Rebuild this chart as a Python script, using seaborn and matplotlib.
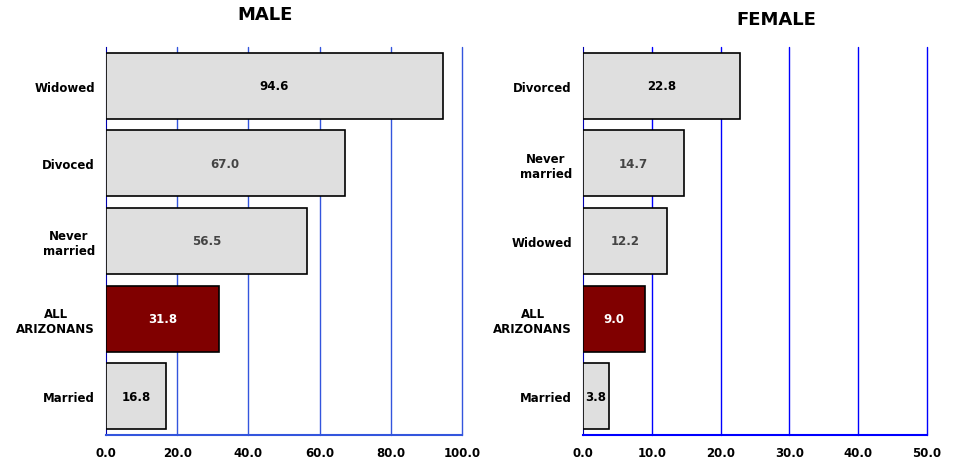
import matplotlib
matplotlib.use("Agg")
import matplotlib.pyplot as plt
import seaborn as sns
import pandas as pd

male_cats = ["Widowed", "Divoced", "Never\nmarried", "ALL\nARIZONANS", "Married"]
male_vals = [94.6, 67.0, 56.5, 31.8, 16.8]
female_cats = ["Divorced", "Never\nmarried", "Widowed", "ALL\nARIZONANS", "Married"]
female_vals = [22.8, 14.7, 12.2, 9.0, 3.8]
male_ticks = [0, 20, 40, 60, 80, 100]
female_ticks = [0, 10, 20, 30, 40, 50]

sns.set_style("white")
plt.rcParams['font.family'] = ['DejaVu Sans']
plt.rcParams['text.color'] = 'black'
plt.rcParams['xtick.color'] = 'black'
plt.rcParams['ytick.color'] = 'black'

fig = plt.figure(figsize=(9.58, 4.6), dpi=100)
ax1 = fig.add_axes([0.1107, 0.0522, 0.3716, 0.8435])
ax2 = fig.add_axes([0.6086, 0.0522, 0.359, 0.8435])

label_colors = ["black", "#444444", "#444444", "white", "black"]


def draw(ax, cats, vals, ticks, gridcol, title, tx, ty):
    df = pd.DataFrame({"cat": cats, "val": vals})
    pal = {c: ("#800000" if c.startswith("ALL") else "#dfdfdf") for c in cats}
    sns.barplot(data=df, x="val", y="cat", hue="cat", palette=pal, legend=False,
                orient="h", width=0.85, edgecolor="black", linewidth=1.2,
                saturation=1, ax=ax, zorder=3)
    ax.set_xlim(ticks[0], ticks[-1])
    ax.set_ylim(4.5, -0.5)
    ax.set_xticks(ticks)
    ax.set_xticklabels([f"{t:.1f}" for t in ticks], fontsize=8.5, fontweight="bold")
    ax.set_yticks(range(len(cats)))
    ax.set_yticklabels(cats, fontsize=8.5, fontweight="bold", multialignment="center")
    ax.tick_params(axis="both", length=0, pad=8)
    ax.set_xlabel("")
    ax.set_ylabel("")
    for t in ticks[1:]:
        ax.axvline(t, color=gridcol, linewidth=1, zorder=0, clip_on=False)
    for s in ["top", "right"]:
        ax.spines[s].set_visible(False)
    ax.spines["left"].set_color("#0000aa")
    ax.spines["bottom"].set_color(gridcol)
    ax.spines["bottom"].set_linewidth(1.5)
    for i, v in enumerate(vals):
        ax.text(v / 2, i, f"{v:.1f}", ha="center", va="center", fontsize=8.5,
                fontweight="bold", color=label_colors[i], zorder=5)
    fig.text(tx, ty, title, ha="center", va="center", fontsize=13, fontweight="bold")


draw(ax1, male_cats, male_vals, male_ticks, "#3355dd", "MALE", 265 / 958, 1 - 15 / 460)
draw(ax2, female_cats, female_vals, female_ticks, "#0000ff", "FEMALE", 776 / 958, 1 - 20 / 460)

fig.savefig("out.png", dpi=100)
